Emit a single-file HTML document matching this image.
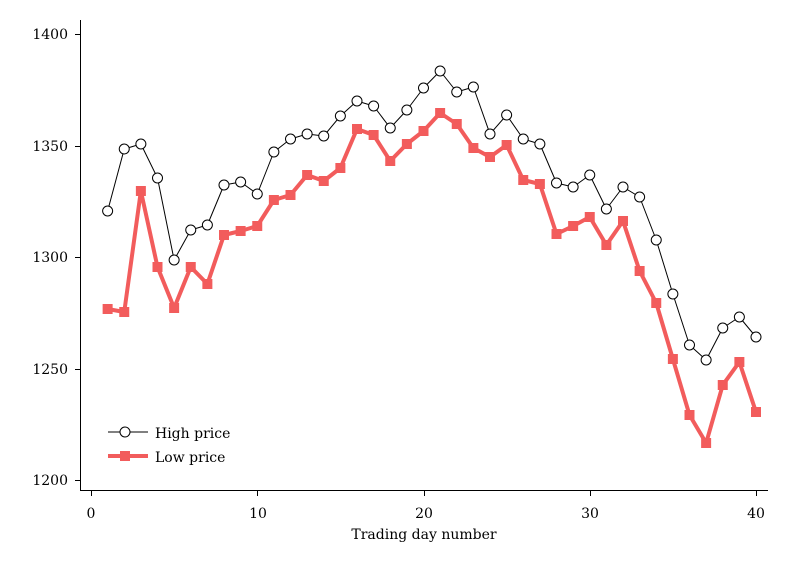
<!DOCTYPE html>
<html><head><meta charset="utf-8"><style>
html,body{margin:0;padding:0;background:#fff;}
svg text{font-family:"DejaVu Serif",serif;font-size:14px;fill:#000;}
</style></head><body>
<svg width="789" height="574" viewBox="0 0 789 574" xmlns="http://www.w3.org/2000/svg">
<rect width="789" height="574" fill="#fff"/>
<g stroke="#000" stroke-width="1" fill="none">
<line x1="80.5" y1="20" x2="80.5" y2="490.5"/>
<line x1="80" y1="490.5" x2="768" y2="490.5"/>
<line x1="75" y1="34.5" x2="80" y2="34.5"/>
<line x1="75" y1="146.5" x2="80" y2="146.5"/>
<line x1="75" y1="257.5" x2="80" y2="257.5"/>
<line x1="75" y1="369.5" x2="80" y2="369.5"/>
<line x1="75" y1="480.5" x2="80" y2="480.5"/>
<line x1="91.5" y1="490" x2="91.5" y2="496"/>
<line x1="257.5" y1="490" x2="257.5" y2="496"/>
<line x1="424.5" y1="490" x2="424.5" y2="496"/>
<line x1="590.5" y1="490" x2="590.5" y2="496"/>
<line x1="756.5" y1="490" x2="756.5" y2="496"/>
</g>
<g text-anchor="end">
<text x="68" y="39">1400</text><text x="68" y="151">1350</text><text x="68" y="262">1300</text><text x="68" y="374">1250</text><text x="68" y="485">1200</text>
</g>
<g text-anchor="middle">
<text x="91" y="518">0</text><text x="258" y="518">10</text><text x="424" y="518">20</text><text x="590" y="518">30</text><text x="756" y="518">40</text>
<text x="424" y="539">Trading day number</text>
</g>
<g id="plots"></g>
<line x1="108" y1="432" x2="148" y2="432" stroke="#000" stroke-width="1"/>
<circle cx="125" cy="432" r="5" fill="#fff" stroke="#000"/>
<text x="155" y="438">High price</text>
<line x1="108" y1="456" x2="148" y2="456" stroke="#f25c5c" stroke-width="4"/>
<rect x="120" y="451" width="10" height="10" fill="#f25c5c"/>
<text x="155" y="462">Low price</text>
</svg>
<script>
var hi=[210,148,143,177,259,229,224,184,181,193,151,138,133,135,115,100,105,127,109,87,70,91,86,133,114,138,143,182,186,174,208,186,196,239,293,344,359,327,316,336];
var lo=[308,311,190,266,307,266,283,234,230,225,199,194,174,180,167,128,134,160,143,130,112,123,147,156,144,179,183,233,225,216,244,220,270,302,358,414,442,384,361,411];
var ns="http://www.w3.org/2000/svg",g=document.getElementById("plots");
function X(i){return 91+16.625*(i+1);}
function pl(d,c,w){var p=document.createElementNS(ns,"polyline");p.setAttribute("points",d.map(function(y,i){return X(i)+","+(y+1)}).join(" "));p.setAttribute("fill","none");p.setAttribute("stroke",c);p.setAttribute("stroke-width",w);p.setAttribute("stroke-linejoin","round");g.appendChild(p);}
pl(lo,"#f25c5c",4);
lo.forEach(function(y,i){var r=document.createElementNS(ns,"rect");r.setAttribute("x",X(i)-5);r.setAttribute("y",y-4);r.setAttribute("width",10);r.setAttribute("height",10);r.setAttribute("fill","#f25c5c");g.appendChild(r);});
pl(hi,"#000",1);
hi.forEach(function(y,i){var c=document.createElementNS(ns,"circle");c.setAttribute("cx",X(i));c.setAttribute("cy",y+1);c.setAttribute("r",5);c.setAttribute("fill","#fff");c.setAttribute("stroke","#000");g.appendChild(c);});
</script>
</body></html>
